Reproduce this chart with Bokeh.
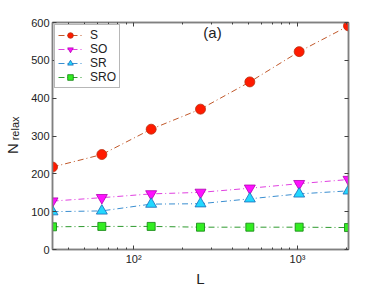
from bokeh.plotting import figure
from bokeh.models import (ColumnDataSource, FixedTicker, LinearAxis, LogAxis, Label,
                          Legend, LegendItem, Range1d)
from bokeh.embed import file_html
from bokeh.resources import INLINE

L_vals = [32, 64, 128, 256, 512, 1024, 2048]
S = [218, 251, 318, 371, 443, 523, 591]
SO = [128, 137, 147, 151, 162, 174, 185]
SR = [100, 102, 120, 121, 134, 147, 155]
SRO = [60, 61, 61, 59, 59, 59, 58]

y_ticks = [0, 100, 200, 300, 400, 500, 600]
x_major = [100, 1000]
x_minor = [40, 50, 60, 70, 80, 90, 200, 300, 400, 500, 600, 700, 800, 900, 2000]

FONT = "Liberation Sans"
NB = "\u00a0"

p = figure(frame_width=296, frame_height=227, x_axis_type="log", output_backend="svg",
           toolbar_location=None, x_range=Range1d(32, 2048), y_range=Range1d(0, 600),
           min_border_left=50, min_border_right=34, min_border_top=22, min_border_bottom=35)
p.background_fill_color = "white"
p.border_fill_color = "white"
p.grid.visible = False
p.outline_line_color = "#808080"
p.outline_line_width = 1.5

def style_axis(ax, labels=True):
    ax.axis_line_color = "#808080"
    ax.axis_line_width = 1.5
    ax.major_tick_line_color = "#404040"
    ax.minor_tick_line_color = "#404040"
    ax.major_tick_in = 4
    ax.major_tick_out = 0
    ax.minor_tick_in = 2
    ax.minor_tick_out = 0
    ax.major_label_text_font = FONT
    ax.major_label_text_font_size = "11px"
    ax.major_label_text_color = "#222222"
    ax.major_label_standoff = 3
    if not labels:
        ax.major_label_text_font_size = "0px"

p.xaxis.ticker = FixedTicker(ticks=x_major, minor_ticks=x_minor)
p.yaxis.ticker = FixedTicker(ticks=y_ticks, minor_ticks=[])
p.xaxis.major_label_overrides = {100: "10²", 1000: "10³"}
style_axis(p.xaxis[0])
style_axis(p.yaxis[0])
p.xaxis.axis_label = "L"
p.xaxis.axis_label_text_font = FONT
p.xaxis.axis_label_text_font_size = "15px"
p.xaxis.axis_label_text_font_style = "normal"
p.xaxis.axis_label_text_color = "#222222"
p.xaxis.axis_label_standoff = 2

# subscript part of the y label, next to the tick labels
p.yaxis.axis_label = NB * 5 + "relax"
p.yaxis.axis_label_text_font = FONT
p.yaxis.axis_label_text_font_size = "11px"
p.yaxis.axis_label_text_font_style = "normal"
p.yaxis.axis_label_text_color = "#222222"
p.yaxis.axis_label_standoff = 7

# main letter of the y label, on an extra bare axis further out
outer = LinearAxis(ticker=FixedTicker(ticks=[], minor_ticks=[]), axis_label="N" + NB * 6)
outer.axis_line_color = None
outer.major_tick_in = 0
outer.major_tick_out = 0
outer.minor_tick_in = 0
outer.minor_tick_out = 0
outer.major_label_standoff = 0
outer.major_label_text_font_size = "0px"
outer.axis_label_text_font = FONT
outer.axis_label_text_font_size = "15px"
outer.axis_label_text_font_style = "normal"
outer.axis_label_text_color = "#222222"
outer.axis_label_standoff = -14
p.add_layout(outer, "left")

top = LogAxis(ticker=FixedTicker(ticks=x_major, minor_ticks=x_minor))
style_axis(top, labels=False)
top.major_label_overrides = {100: "", 1000: ""}
p.add_layout(top, "above")
right = LinearAxis(ticker=FixedTicker(ticks=y_ticks, minor_ticks=[]))
style_axis(right, labels=False)
right.major_label_overrides = {t: "" for t in y_ticks}
p.add_layout(right, "right")

src = ColumnDataSource(dict(L=L_vals, S=S, SO=SO, SR=SR, SRO=SRO))

dash = "6 3 1 3"
l1 = p.line("L", "S", source=src, line_color="#c0582a", line_width=1, line_dash=dash)
m1 = p.scatter("L", "S", source=src, marker="circle", size=10, fill_color="#ff1a00",
               line_color="#b83010", line_width=0.8)
l2 = p.line("L", "SO", source=src, line_color="#e040e0", line_width=1, line_dash=dash)
m2 = p.scatter("L", "SO", source=src, marker="inverted_triangle", size=11, fill_color="#ff10ff",
               line_color="#b000b0", line_width=0.8)
l3 = p.line("L", "SR", source=src, line_color="#3a8ed0", line_width=1, line_dash=dash)
m3 = p.scatter("L", "SR", source=src, marker="triangle", size=11, fill_color="#22d8ff",
               line_color="#1a6ab8", line_width=0.8)
l4 = p.line("L", "SRO", source=src, line_color="#2e9a2e", line_width=1, line_dash=dash)
m4 = p.scatter("L", "SRO", source=src, marker="square", size=8, fill_color="#33ee22",
               line_color="#108010", line_width=0.8)

legend = Legend(items=[LegendItem(label="S", renderers=[l1, m1]),
                       LegendItem(label="SO", renderers=[l2, m2]),
                       LegendItem(label="SR", renderers=[l3, m3]),
                       LegendItem(label="SRO", renderers=[l4, m4])],
                location="top_left")
legend.border_line_color = "#707070"
legend.border_line_width = 1.5
legend.margin = 2
legend.padding = 3
legend.spacing = 0
legend.glyph_width = 24
legend.glyph_height = 14
legend.label_height = 14
legend.label_standoff = 8
legend.label_text_font = FONT
legend.label_text_font_size = "12px"
legend.label_text_color = "#222222"
legend.background_fill_alpha = 1
p.add_layout(legend)

p.add_layout(Label(x=160, y=217, x_units="screen", y_units="screen", text="(a)",
                   text_font=FONT, text_font_size="15px", text_color="#222222",
                   text_align="center", text_baseline="middle"))

open("out.html", "w").write(file_html(p, INLINE))
